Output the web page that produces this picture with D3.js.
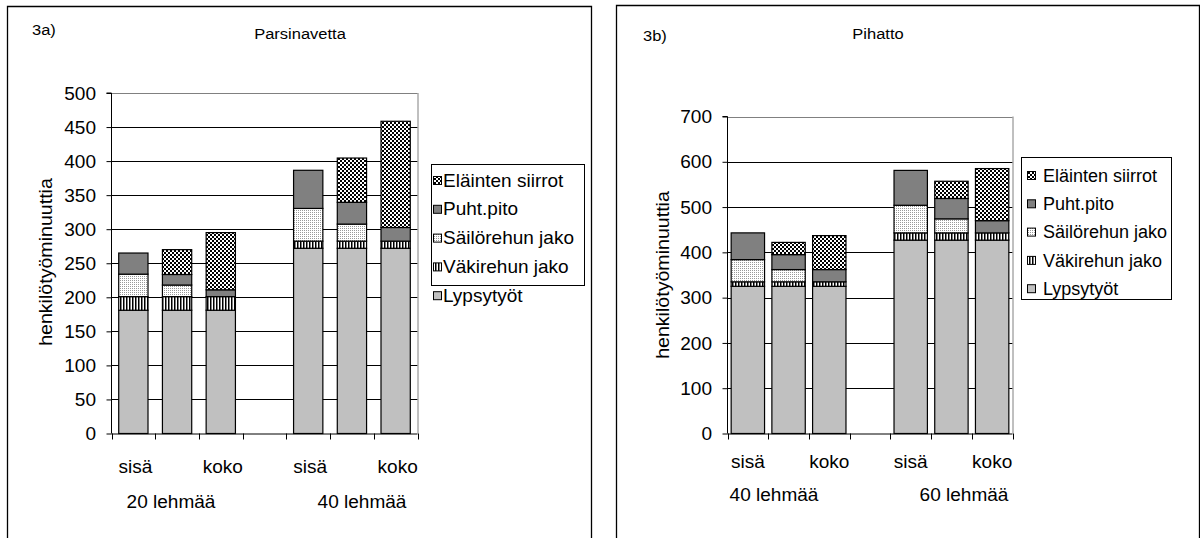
<!DOCTYPE html>
<html><head><meta charset="utf-8">
<script src="https://cdn.jsdelivr.net/npm/d3@7"></script>
<style>body{margin:0;background:#fff}svg{display:block}text{font-family:"Liberation Sans",Arial,sans-serif;fill:#000}</style>
</head><body>
<script>
// ---- data ----
const seriesNames = ["Lypsytyöt","Väkirehun jako","Säilörehun jako","Puht.pito","Eläinten siirrot"];
const subLabels = ["sisä","","koko"];
const leftGroups = ["20 lehmää","40 lehmää"];
const rightGroups = ["40 lehmää","60 lehmää"];
const leftTicks = [0,50,100,150,200,250,300,350,400,450,500];
const rightTicks = [0,100,200,300,400,500,600,700];
// left chart (Parsinavetta)
const leftLypsy = [181,181,181,272,272,272];
const leftVaki  = [20,20,20,10.5,10.5,10.5];
const leftSailo = [33,17,0,48,25,0];
const leftPuht  = [31,15.5,10,56,32,20];
const leftElain = [0,36.5,84,0,65,156];
// right chart (Pihatto)
const rightLypsy = [325,325,325,427,427,427];
const rightVaki  = [10,10,10,16,16,16];
const rightSailo = [49,27,0,61,31,0];
const rightPuht  = [59,33,27,77,45,27];
const rightElain = [0,27,75,0,38,115];

const W=1200,H=538, FS=18.5, SX=1.03;
const svg=d3.select("body").append("svg").attr("width",W).attr("height",H);
const defs=svg.append("defs");
const pChk=defs.append("pattern").attr("id","pElain").attr("patternUnits","userSpaceOnUse").attr("width",4).attr("height",4);
pChk.append("rect").attr("width",4).attr("height",4).attr("fill","#fff");
pChk.append("rect").attr("width",2).attr("height",2).attr("fill","#000");
pChk.append("rect").attr("x",2).attr("y",2).attr("width",2).attr("height",2).attr("fill","#000");
const pDot=defs.append("pattern").attr("id","pSailo").attr("patternUnits","userSpaceOnUse").attr("width",2).attr("height",2);
pDot.append("rect").attr("width",2).attr("height",2).attr("fill","#fff");
pDot.append("rect").attr("width",1).attr("height",1).attr("fill","#999");
const pStr=defs.append("pattern").attr("id","pVaki").attr("patternUnits","userSpaceOnUse").attr("width",3).attr("height",3);
pStr.append("rect").attr("width",3).attr("height",3).attr("fill","#fff");
pStr.append("rect").attr("width",1.5).attr("height",3).attr("fill","#000");
const fills=["#C0C0C0","url(#pVaki)","url(#pSailo)","#808080","url(#pElain)"];

function txt(g,x,y,s,opt={}){
  return g.append("text").attr("transform",`translate(${x},${y}) rotate(${opt.rot||0}) scale(${opt.sx||SX},1)`)
   .attr("font-size",opt.size||FS).attr("text-anchor",opt.anchor||"start").text(s);
}

function chart(cfg){
  const g=svg.append("g");
  g.append("path").attr("d",`M${cfg.px0},${H+5}V${cfg.py0}H${cfg.px1}V${H+5}`).attr("fill","none").attr("stroke","#000").attr("stroke-width",1.3);
  const y=d3.scaleLinear().domain([0,cfg.ymax]).range([cfg.y0,cfg.y1]);
  const x=d3.scaleBand().domain(d3.range(7)).range([cfg.x0,cfg.x1]).paddingInner(0).paddingOuter(0);
  g.selectAll(".gl").data(cfg.ticks.slice(1)).join("line")
    .attr("x1",cfg.x0).attr("x2",cfg.x1).attr("y1",d=>Math.round(y(d))+0.5).attr("y2",d=>Math.round(y(d))+0.5)
    .attr("stroke",d=>d===cfg.ymax?"#808080":"#000").attr("stroke-width",1);
  g.append("line").attr("x1",cfg.x1+0.5).attr("x2",cfg.x1+0.5).attr("y1",y(cfg.ymax)).attr("y2",cfg.y0).attr("stroke","#808080");
  const data=cfg.series[0].map((_,i)=>{const o={slot:[0,1,2,4,5,6][i]};seriesNames.forEach((n,k)=>o[n]=cfg.series[k][i]);return o;});
  const stack=d3.stack().keys(seriesNames)(data);
  const bw=x.bandwidth()*cfg.barRatio;
  stack.forEach((layer,k)=>{
    g.selectAll(null).data(layer.filter(d=>d[1]-d[0]>0)).join("rect")
      .attr("x",d=>x(d.data.slot)+(x.bandwidth()-bw)/2).attr("width",bw)
      .attr("y",d=>y(d[1])).attr("height",d=>y(d[0])-y(d[1]))
      .attr("fill",fills[k]).attr("stroke","#000").attr("stroke-width",1.2);
  });
  const ya=g.append("g").attr("transform",`translate(${cfg.x0},0)`)
    .call(d3.axisLeft(y).tickValues(cfg.ticks).tickSize(5).tickFormat(""));
  ya.select(".domain").attr("stroke","#000").attr("d",`M-5,${cfg.y1}H0V${cfg.y0}`);
  ya.selectAll(".tick line").attr("stroke","#000");
  cfg.ticks.forEach(t=>txt(g,cfg.x0-15.5,y(t)+6.6,String(t),{anchor:"end"}));
  const xa=g.append("g").attr("transform",`translate(0,${cfg.y0})`)
    .call(d3.axisBottom(x).tickSize(0).tickFormat(""));
  xa.select(".domain").attr("stroke","#000").attr("d",`M${cfg.x0},0.5H${cfg.x1}`);
  d3.range(8).forEach(i=>{const xx=Math.round(i<7?x(i):cfg.x1)+0.5;
    g.append("line").attr("x1",xx).attr("x2",xx).attr("y1",cfg.y0).attr("y2",cfg.y0+6).attr("stroke","#000");});
  [0,4].forEach((s,gi)=>{
    subLabels.forEach((l,j)=>{ if(l) txt(g,x(s+j)+x.bandwidth()/2+cfg.labDx,cfg.labY,l,{anchor:"middle"});});
    txt(g,cfg.groupX[gi],cfg.grpY,cfg.groups[gi],{anchor:"middle"});
  });
  txt(g,cfg.ytX,cfg.ytY,"henkilötyöminuuttia",{rot:-90,anchor:"middle",sx:1.06});
  txt(g,cfg.tagX,cfg.tagY,cfg.tag,{size:15,sx:1.1});
  txt(g,cfg.titleX,cfg.titleY,cfg.title,{size:15,sx:1.1,anchor:"middle"});
  const L=cfg.leg;
  g.append("rect").attr("x",L.x+0.5).attr("y",L.y+0.5).attr("width",L.w).attr("height",L.h).attr("fill","#fff").attr("stroke","#000");
  const order=seriesNames.slice().reverse();
  order.forEach((n,i)=>{
    const cy=L.y+L.first+i*L.step;
    g.append("rect").attr("x",L.x+L.sw+0.5).attr("y",cy-3.5).attr("width",8).attr("height",8)
      .attr("fill",fills[seriesNames.indexOf(n)]).attr("stroke","#000").attr("stroke-width",1);
    txt(g,L.x+L.tx,cy+6.6,n,{size:L.fs,sx:1});
  });
}

chart({px0:7.5,py0:6.5,px1:591.5,x0:111.5,x1:417.5,y0:433.5,y1:93,ymax:500,ticks:leftTicks,barRatio:0.67,
  series:[leftLypsy,leftVaki,leftSailo,leftPuht,leftElain],groups:leftGroups,groupX:[171,362],labDx:2,labY:473,grpY:508,
  ytX:52,ytY:262,tag:"3a)",tagX:32,tagY:35,title:"Parsinavetta",titleX:300,titleY:39,
  leg:{x:431,y:164,w:153,h:121,first:16,step:28.8,sw:2,tx:12,fs:19}});
chart({px0:616.5,py0:5.5,px1:1199.5,x0:727.5,x1:1012.5,y0:433.5,y1:116.5,ymax:700,ticks:rightTicks,barRatio:0.82,
  series:[rightLypsy,rightVaki,rightSailo,rightPuht,rightElain],groups:rightGroups,groupX:[774,964],labDx:0,labY:468,grpY:501,
  ytX:669,ytY:275,tag:"3b)",tagX:643,tagY:41,title:"Pihatto",titleX:878,titleY:39,
  leg:{x:1021,y:157,w:150,h:142,first:18,step:28.3,sw:6,tx:22,fs:18}});
</script>
</body></html>
